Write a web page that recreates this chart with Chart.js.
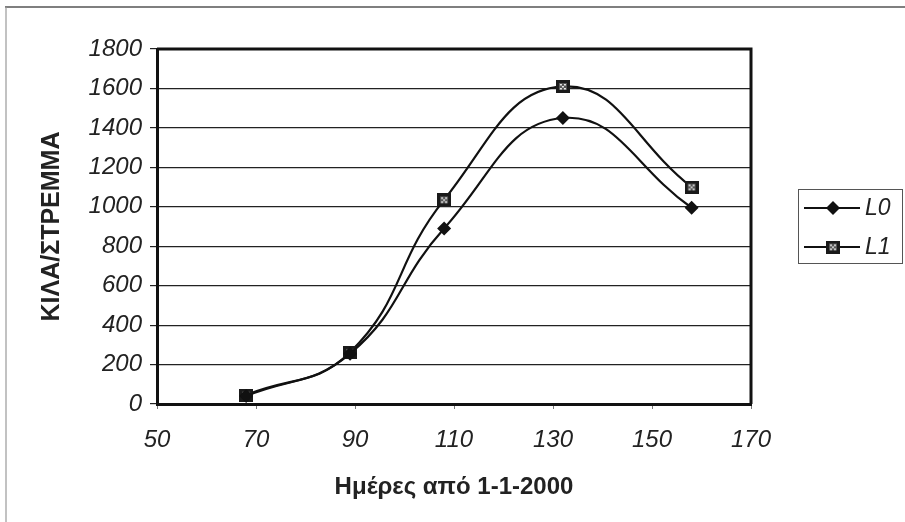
<!DOCTYPE html>
<html>
<head>
<meta charset="utf-8">
<script src="https://cdn.jsdelivr.net/npm/chart.js@4"></script>
<style>
  html, body { margin: 0; padding: 0; background: #fff; }
  #wrap { width: 905px; height: 522px; position: relative; }
</style>
</head>
<body>
<div id="wrap"><canvas id="c" width="905" height="522"></canvas></div>
<script>
// Days since 1-1-2000 and yield (kg per stremma) for the two plots
const days = [68, 89, 108, 132, 158];
const yieldL0 = [40, 255, 890, 1450, 995];
const yieldL1 = [45, 262, 1035, 1610, 1100];
const seriesNames = ['L0', 'L1'];
const xTitle = 'Ημέρες από 1-1-2000';
const yTitle = 'ΚΙΛΑ/ΣΤΡΕΜΜΑ';

const FONT = '"Liberation Sans", Arial, sans-serif';
const INK = '#111';

// Square marker: dark body with a small light dotted interior
function squareMarker() {
  const c = document.createElement('canvas');
  c.width = 14; c.height = 13;
  const g = c.getContext('2d');
  g.fillStyle = '#1a1a1a';
  g.fillRect(0, 0, 14, 13);
  g.fillStyle = '#555';
  g.fillRect(3, 3, 8, 7);
  g.fillStyle = '#e8e8e8';
  [[4,4],[8,4],[4,8],[8,8],[6,6]].forEach(([x, y]) => g.fillRect(x, y, 2, 1.5));
  return c;
}
const sqMark = squareMarker();

const toPoints = (xs, ys) => xs.map((x, i) => ({ x, y: ys[i] }));

// White page, outer frame, top/right plot border
const framePlugin = {
  id: 'frame',
  beforeDraw(chart) {
    const ctx = chart.ctx;
    ctx.save();
    ctx.fillStyle = '#fff';
    ctx.fillRect(0, 0, chart.width, chart.height);
    ctx.strokeStyle = '#555';
    ctx.lineWidth = 1.5;
    ctx.beginPath();
    ctx.moveTo(5, 7); ctx.lineTo(chart.width, 7);
    ctx.stroke();
    ctx.strokeStyle = '#999';
    ctx.lineWidth = 1.2;
    ctx.beginPath();
    ctx.moveTo(6, 7); ctx.lineTo(6, chart.height);
    ctx.stroke();
    ctx.restore();
  },
  afterDatasetsDraw(chart) {
    const { ctx, chartArea: a } = chart;
    ctx.save();
    ctx.strokeStyle = INK;
    ctx.lineWidth = 3;
    ctx.beginPath();
    ctx.moveTo(a.left, a.top); ctx.lineTo(a.right, a.top); ctx.lineTo(a.right, a.bottom);
    ctx.stroke();
    ctx.restore();
  }
};

// Boxed legend to the right of the plot: line sample with marker, then name
const boxLegend = {
  id: 'boxLegend',
  afterDraw(chart) {
    const ctx = chart.ctx;
    const box = { x: 798.5, y: 189.5, w: 104, h: 74 };
    ctx.save();
    ctx.strokeStyle = '#555';
    ctx.lineWidth = 1;
    ctx.strokeRect(box.x, box.y, box.w, box.h);
    const rows = [208, 247];
    chart.data.datasets.forEach((ds, i) => {
      const y = rows[i];
      ctx.strokeStyle = INK;
      ctx.lineWidth = 2.2;
      ctx.beginPath();
      ctx.moveTo(804, y); ctx.lineTo(860, y);
      ctx.stroke();
      if (ds.pointStyle === 'rectRot') {
        ctx.fillStyle = INK;
        ctx.beginPath();
        ctx.moveTo(833, y - 7); ctx.lineTo(840, y); ctx.lineTo(833, y + 7); ctx.lineTo(826, y);
        ctx.closePath();
        ctx.fill();
      } else {
        ctx.drawImage(ds.pointStyle, 833 - 7, y - 6.5);
      }
      ctx.fillStyle = '#222';
      ctx.font = 'italic 23px ' + FONT;
      ctx.textAlign = 'left';
      ctx.textBaseline = 'middle';
      ctx.fillText(ds.label, 865, y + 1);
    });
    ctx.restore();
  }
};

new Chart(document.getElementById('c'), {
  type: 'line',
  data: {
    datasets: [
      {
        label: seriesNames[0],
        data: toPoints(days, yieldL0),
        borderColor: INK,
        borderWidth: 2.2,
        tension: 0.45,
        pointStyle: 'rectRot',
        pointRadius: 7,
        pointBackgroundColor: INK,
        pointBorderColor: INK,
        pointBorderWidth: 0
      },
      {
        label: seriesNames[1],
        data: toPoints(days, yieldL1),
        borderColor: INK,
        borderWidth: 2.2,
        tension: 0.45,
        pointStyle: sqMark,
        pointRadius: 7
      }
    ]
  },
  options: {
    responsive: false,
    animation: false,
    events: [],
    layout: { padding: { left: 0, top: 49, right: 154, bottom: 0 } },
    plugins: {
      legend: { display: false },
      tooltip: { enabled: false }
    },
    scales: {
      x: {
        type: 'linear',
        min: 50, max: 170,
        ticks: {
          stepSize: 20,
          color: '#222',
          padding: 17,
          callback: v => String(v),
          font: { family: FONT, size: 24, style: 'italic' }
        },
        grid: { drawOnChartArea: false, drawTicks: true, tickLength: 5, color: '#777' },
        border: { display: true, color: INK, width: 3 },
        title: {
          display: true,
          text: xTitle,
          color: '#222',
          font: { family: FONT, size: 24, weight: 'bold' },
          padding: { top: 0, bottom: 20 }
        },
        afterFit(scale) { scale.height = 118; }
      },
      y: {
        min: 0, max: 1800,
        ticks: {
          stepSize: 200,
          color: '#222',
          padding: 8,
          callback: v => String(v),
          font: { family: FONT, size: 24, style: 'italic' }
        },
        grid: { drawOnChartArea: true, drawTicks: true, tickLength: 7, color: '#222', lineWidth: 1.2 },
        border: { display: true, color: INK, width: 3 },
        title: {
          display: true,
          text: yTitle,
          color: '#222',
          font: { family: FONT, size: 25, weight: 'bold' },
          padding: { top: 37, bottom: 0 }
        },
        afterFit(scale) { scale.width = 157; }
      }
    }
  },
  plugins: [framePlugin, boxLegend]
});
</script>
</body>
</html>
